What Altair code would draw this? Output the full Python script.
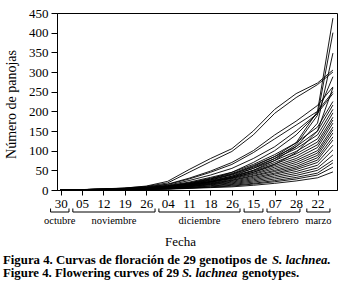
import json
import altair as alt
import pandas as pd

# ---------------- data ----------------
tick_labels = ['30', '05', '12', '19', '26', '04', '11', '18', '26', '15', '07', '28', '22']
x_pos = [0, 1, 2, 3, 4, 5, 6, 7, 8, 9, 10, 11, 12, 12.72]

series = {
    'G01': [0, 1, 3, 5, 10, 22, 52, 80, 105, 150, 205, 245, 272, 305],
    'G02': [0, 1, 2, 5, 9, 18, 45, 72, 98, 140, 195, 235, 268, 300],
    'G03': [0, 0, 1, 2, 4, 8, 15, 25, 40, 60, 85, 120, 200, 437],
    'G04': [0, 0, 1, 2, 4, 7, 14, 22, 35, 55, 80, 115, 190, 400],
    'G05': [0, 0, 1, 2, 3, 6, 12, 20, 32, 50, 75, 110, 170, 348],
    'G06': [0, 0, 1, 2, 4, 8, 16, 28, 45, 70, 100, 140, 195, 288],
    'G07': [0, 1, 2, 4, 8, 15, 30, 48, 70, 100, 140, 175, 215, 262],
    'G08': [0, 1, 2, 4, 7, 14, 28, 45, 65, 95, 130, 165, 200, 250],
    'G09': [0, 1, 2, 3, 6, 12, 24, 38, 55, 80, 110, 150, 195, 245],
    'G10': [0, 1, 2, 3, 6, 11, 20, 32, 45, 65, 90, 120, 160, 225],
    'G11': [0, 1, 2, 3, 5, 10, 18, 30, 42, 62, 85, 110, 150, 216],
    'G12': [0, 1, 2, 3, 5, 10, 18, 28, 40, 58, 80, 105, 140, 205],
    'G13': [0, 1, 2, 3, 5, 9, 16, 26, 38, 55, 75, 98, 130, 196],
    'G14': [0, 1, 1, 3, 5, 9, 15, 24, 35, 50, 70, 92, 122, 185],
    'G15': [0, 1, 1, 2, 4, 8, 14, 22, 33, 48, 66, 86, 115, 178],
    'G16': [0, 1, 1, 2, 4, 8, 13, 21, 31, 45, 62, 80, 108, 170],
    'G17': [0, 0, 1, 2, 4, 7, 12, 20, 29, 42, 58, 75, 100, 160],
    'G18': [0, 0, 1, 2, 4, 7, 12, 18, 27, 40, 54, 70, 94, 153],
    'G19': [0, 0, 1, 2, 3, 6, 11, 17, 25, 37, 50, 65, 88, 145],
    'G20': [0, 0, 1, 2, 3, 6, 10, 16, 24, 35, 47, 60, 82, 135],
    'G21': [0, 0, 1, 2, 3, 5, 9, 15, 22, 32, 43, 56, 76, 127],
    'G22': [0, 0, 1, 2, 3, 5, 9, 14, 20, 29, 40, 52, 70, 114],
    'G23': [0, 0, 1, 1, 2, 4, 8, 13, 18, 26, 36, 47, 63, 102],
    'G24': [0, 0, 1, 1, 2, 4, 7, 11, 16, 23, 32, 42, 56, 89],
    'G25': [0, 0, 0, 1, 2, 3, 6, 10, 14, 20, 28, 37, 50, 76],
    'G26': [0, 0, 0, 1, 2, 3, 5, 8, 12, 17, 24, 32, 43, 69],
    'G27': [0, 0, 0, 1, 1, 3, 5, 7, 10, 15, 21, 28, 38, 58],
    'G28': [0, 0, 0, 1, 1, 2, 4, 6, 8, 12, 17, 23, 31, 46],
    'G29': [0, 0, 1, 2, 3, 6, 12, 20, 30, 45, 65, 95, 150, 260],
}

months = ['octubre', 'noviembre', 'diciembre', 'enero', 'febrero', 'marzo']
month_start = [-0.47, 0.57, 4.59, 8.57, 9.64, 11.50]
month_end = [0.39, 4.41, 8.38, 9.45, 11.18, 12.58]

caption_es_a = 'Figura 4. Curvas de  floración de 29 genotipos de'
caption_es_b = 'S. lachnea.'
caption_en_a = 'Figure 4. Flowering curves of 29'
caption_en_b = 'S. lachnea'
caption_en_c = 'genotypes.'

# ---------------- tables ----------------
rows = []
for name, vals in series.items():
    for xv, v in zip(x_pos, vals):
        rows.append({'genotipo': name, 'x': xv, 'panojas': v})
df = pd.DataFrame(rows)

mdf = pd.DataFrame({'mes': months, 'x0': month_start, 'x1': month_end})
mdf['xm'] = (mdf['x0'] + mdf['x1']) / 2

one = pd.DataFrame({'k': [0]})

FONT = 'Liberation Serif'
xscale = alt.Scale(domain=[-0.17, 12.91], nice=False, zero=False)
yscale = alt.Scale(domain=[0, 450], nice=False)

label_expr = json.dumps(tick_labels) + '[datum.value]'

xaxis = alt.Axis(values=list(range(13)), labelExpr=label_expr,
                 title='Fecha', titleX=123, titleY=51,
                 titleBaseline='middle', titleFontSize=13,
                 titleFontWeight='normal', labelFontSize=13,
                 tickSize=5, labelPadding=2, grid=False,
                 domainColor='black', tickColor='black',
                 labelColor='black', titleColor='black')
yaxis = alt.Axis(values=list(range(0, 451, 50)),
                 title='Número de panojas', titleX=-46, titleY=91,
                 titleBaseline='middle', titleFontSize=14,
                 titleFontWeight='normal', labelFontSize=13,
                 tickSize=6, labelPadding=3, grid=False,
                 domainColor='black', tickColor='black',
                 labelColor='black', titleColor='black')

lines = alt.Chart(df).mark_line(color='black', strokeWidth=0.9).encode(
    x=alt.X('x:Q', scale=xscale, axis=xaxis),
    y=alt.Y('panojas:Q', scale=yscale, axis=yaxis),
    detail='genotipo:N',
)

bracket_h = alt.Chart(mdf).mark_rule(color='black', strokeWidth=1).encode(
    x=alt.X('x0:Q', scale=xscale, axis=xaxis), x2='x1:Q', y=alt.value(199))
bracket_l = alt.Chart(mdf).mark_rule(color='black', strokeWidth=1).encode(
    x=alt.X('x0:Q', scale=xscale, axis=xaxis), y=alt.value(195.5), y2=alt.value(199))
bracket_r = alt.Chart(mdf).mark_rule(color='black', strokeWidth=1).encode(
    x=alt.X('x1:Q', scale=xscale, axis=xaxis), y=alt.value(195.5), y2=alt.value(199))
month_text = alt.Chart(mdf).mark_text(font=FONT, fontSize=10.5, color='black',
                                      baseline='middle').encode(
    x=alt.X('xm:Q', scale=xscale, axis=xaxis), y=alt.value(208), text='mes:N')


def cap(txt, x, y, italic=False):
    return alt.Chart(one).mark_text(
        font=FONT, fontSize=12.8, fontWeight='bold', color='black',
        align='left', baseline='middle',
        fontStyle='italic' if italic else 'normal').encode(
        x=alt.value(x), y=alt.value(y), text=alt.value(txt))


caps = [
    cap(caption_es_a, -54, 247),
    cap(caption_es_b, 215, 247, True),
    cap(caption_en_a, -54, 260),
    cap(caption_en_b, 125, 260, True),
    cap(caption_en_c, 185, 260),
]

chart = alt.layer(lines, bracket_h, bracket_l, bracket_r, month_text, *caps).properties(
    width=280, height=177,
    autosize=alt.AutoSizeParams(type='none'),
    padding={'left': 57, 'top': 13, 'right': 10, 'bottom': 105},
).configure(font=FONT).configure_view(stroke='black', strokeWidth=1)

chart.save('out.html', embed_options={'renderer': 'svg', 'actions': False})
